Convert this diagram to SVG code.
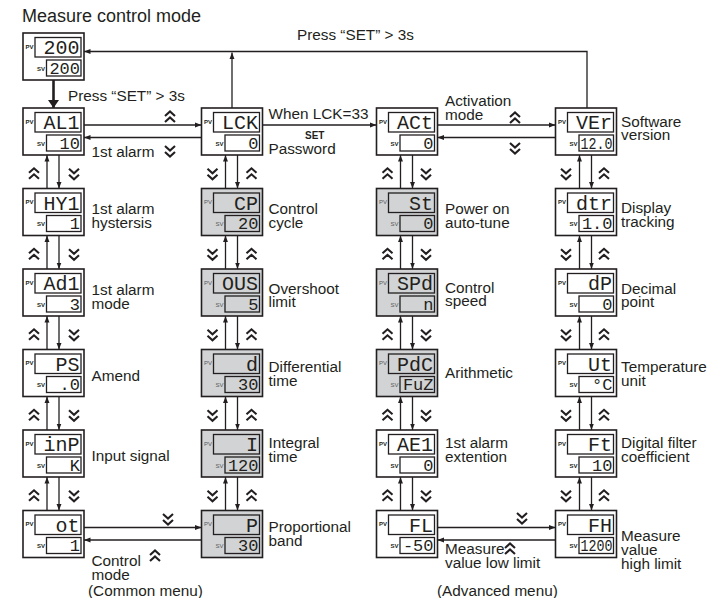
<svg xmlns="http://www.w3.org/2000/svg" width="709" height="598" viewBox="0 0 709 598">
<style>
.box{fill:#fff;stroke:#231f20;stroke-width:1.6}
.disp{fill:#fff;stroke:#231f20;stroke-width:1.3}
.gray .box,.gray .disp{fill:#d1d3d4}
.tag{font-family:"Liberation Sans",Arial,sans-serif;font-size:6px;font-weight:bold;fill:#231f20}
.gray .tag{fill:#58595b;font-weight:normal}
.seg{font-family:"Liberation Mono","Courier New",monospace;text-anchor:end;fill:#231f20}
.pv{font-size:20px}
.sv{font-size:17px}
.lbl{font-family:"Liberation Sans",Arial,sans-serif;font-size:15.3px;fill:#231f20}
.ttl{font-size:18px}
.set{font-family:"Liberation Sans",Arial,sans-serif;font-size:10px;font-weight:bold;fill:#231f20}
.ln{stroke:#231f20;stroke-width:1.3;fill:none}
.thick{stroke:#231f20;stroke-width:2.6;fill:none}
.chev{stroke:#231f20;stroke-width:2.1;fill:none;stroke-linejoin:miter}
</style>
<defs>
<marker id="ah" viewBox="0 0 10 10" refX="10" refY="5" markerWidth="6.5" markerHeight="6.5" markerUnits="userSpaceOnUse" orient="auto"><path d="M0,1.2 L10,5 L0,8.8z" fill="#231f20"/></marker>
<marker id="big" viewBox="0 0 8 11" refX="8" refY="5.5" markerWidth="8" markerHeight="11" markerUnits="userSpaceOnUse" orient="auto"><path d="M0,0 L8,5.5 L0,11z" fill="#231f20"/></marker>
<path id="cu" d="M-5,-1 L0,-5.5 L5,-1 M-5,5 L0,0.5 L5,5"/>
<path id="cd" d="M-5,1 L0,5.5 L5,1 M-5,-5 L0,-0.5 L5,-5"/>
</defs>

<text class="lbl ttl" x="22" y="22">Measure control mode</text>

<g id="connectors">
<line class="thick" x1="53.5" y1="80" x2="53.5" y2="108" marker-end="url(#big)"/>
<path class="ln" d="M587,108V51.5H84" marker-end="url(#ah)"/>
<path class="ln" d="M232,108V52.5" marker-end="url(#ah)"/>
<path class="ln" d="M84,125H201.5" marker-end="url(#ah)"/>
<path class="ln" d="M201.5,137.5H84" marker-end="url(#ah)"/>
<path class="ln" d="M262.5,125H376.5" marker-end="url(#ah)"/>
<path class="ln" d="M437.5,125H555.5" marker-end="url(#ah)"/>
<path class="ln" d="M555.5,137.5H437.5" marker-end="url(#ah)"/>
<path class="ln" d="M84,527.5H201.5" marker-end="url(#ah)"/>
<path class="ln" d="M201.5,540H84" marker-end="url(#ah)"/>
<path class="ln" d="M437.5,527.5H555.5" marker-end="url(#ah)"/>
<path class="ln" d="M555.5,540H437.5" marker-end="url(#ah)"/>
<!-- column 1 -->
<path class="ln" d="M47,188.5V155" marker-end="url(#ah)"/><path class="ln" d="M59,155V188.5" marker-end="url(#ah)"/>
<path class="ln" d="M47,269V235.5" marker-end="url(#ah)"/><path class="ln" d="M59,235.5V269" marker-end="url(#ah)"/>
<path class="ln" d="M47,349.5V316" marker-end="url(#ah)"/><path class="ln" d="M59,316V349.5" marker-end="url(#ah)"/>
<path class="ln" d="M47,430V396.5" marker-end="url(#ah)"/><path class="ln" d="M59,396.5V430" marker-end="url(#ah)"/>
<path class="ln" d="M47,510.5V477" marker-end="url(#ah)"/><path class="ln" d="M59,477V510.5" marker-end="url(#ah)"/>
<!-- column 2 -->
<path class="ln" d="M225.5,188.5V155" marker-end="url(#ah)"/><path class="ln" d="M237.5,155V188.5" marker-end="url(#ah)"/>
<path class="ln" d="M225.5,269V235.5" marker-end="url(#ah)"/><path class="ln" d="M237.5,235.5V269" marker-end="url(#ah)"/>
<path class="ln" d="M225.5,349.5V316" marker-end="url(#ah)"/><path class="ln" d="M237.5,316V349.5" marker-end="url(#ah)"/>
<path class="ln" d="M225.5,430V396.5" marker-end="url(#ah)"/><path class="ln" d="M237.5,396.5V430" marker-end="url(#ah)"/>
<path class="ln" d="M225.5,510.5V477" marker-end="url(#ah)"/><path class="ln" d="M237.5,477V510.5" marker-end="url(#ah)"/>
<!-- column 3 -->
<path class="ln" d="M400.5,188.5V155" marker-end="url(#ah)"/><path class="ln" d="M412.5,155V188.5" marker-end="url(#ah)"/>
<path class="ln" d="M400.5,269V235.5" marker-end="url(#ah)"/><path class="ln" d="M412.5,235.5V269" marker-end="url(#ah)"/>
<path class="ln" d="M400.5,349.5V316" marker-end="url(#ah)"/><path class="ln" d="M412.5,316V349.5" marker-end="url(#ah)"/>
<path class="ln" d="M400.5,430V396.5" marker-end="url(#ah)"/><path class="ln" d="M412.5,396.5V430" marker-end="url(#ah)"/>
<path class="ln" d="M400.5,510.5V477" marker-end="url(#ah)"/><path class="ln" d="M412.5,477V510.5" marker-end="url(#ah)"/>
<!-- column 4 -->
<path class="ln" d="M579.5,188.5V155" marker-end="url(#ah)"/><path class="ln" d="M591.5,155V188.5" marker-end="url(#ah)"/>
<path class="ln" d="M579.5,269V235.5" marker-end="url(#ah)"/><path class="ln" d="M591.5,235.5V269" marker-end="url(#ah)"/>
<path class="ln" d="M579.5,349.5V316" marker-end="url(#ah)"/><path class="ln" d="M591.5,316V349.5" marker-end="url(#ah)"/>
<path class="ln" d="M579.5,430V396.5" marker-end="url(#ah)"/><path class="ln" d="M591.5,396.5V430" marker-end="url(#ah)"/>
<path class="ln" d="M579.5,510.5V477" marker-end="url(#ah)"/><path class="ln" d="M591.5,477V510.5" marker-end="url(#ah)"/>
<!-- chevrons -->
<g class="chev">
<use href="#cu" x="170" y="117"/><use href="#cd" x="170" y="151"/>
<use href="#cu" x="515" y="118"/><use href="#cd" x="515" y="148"/>
<use href="#cd" x="168" y="519"/><use href="#cu" x="155" y="556"/>
<use href="#cd" x="522" y="518"/><use href="#cu" x="510" y="549"/>
<use href="#cu" x="34" y="173.8"/><use href="#cd" x="74" y="173.8"/>
<use href="#cu" x="34" y="254.3"/><use href="#cd" x="74" y="254.3"/>
<use href="#cu" x="34" y="334.8"/><use href="#cd" x="74" y="334.8"/>
<use href="#cu" x="34" y="415.3"/><use href="#cd" x="74" y="415.3"/>
<use href="#cu" x="34" y="495.8"/><use href="#cd" x="74" y="495.8"/>
<use href="#cd" x="212.5" y="173.8"/><use href="#cu" x="251.5" y="173.8"/>
<use href="#cd" x="212.5" y="254.3"/><use href="#cu" x="251.5" y="254.3"/>
<use href="#cd" x="212.5" y="334.8"/><use href="#cu" x="251.5" y="334.8"/>
<use href="#cd" x="212.5" y="415.3"/><use href="#cu" x="251.5" y="415.3"/>
<use href="#cd" x="212.5" y="495.8"/><use href="#cu" x="251.5" y="495.8"/>
<use href="#cu" x="387.5" y="173.8"/><use href="#cd" x="426" y="173.8"/>
<use href="#cu" x="387.5" y="254.3"/><use href="#cd" x="426" y="254.3"/>
<use href="#cu" x="387.5" y="334.8"/><use href="#cd" x="426" y="334.8"/>
<use href="#cu" x="387.5" y="415.3"/><use href="#cd" x="426" y="415.3"/>
<use href="#cu" x="387.5" y="495.8"/><use href="#cd" x="426" y="495.8"/>
<use href="#cd" x="566" y="173.8"/><use href="#cu" x="604" y="173.8"/>
<use href="#cd" x="566" y="254.3"/><use href="#cu" x="604" y="254.3"/>
<use href="#cd" x="566" y="334.8"/><use href="#cu" x="604" y="334.8"/>
<use href="#cd" x="566" y="415.3"/><use href="#cu" x="604" y="415.3"/>
<use href="#cd" x="566" y="495.8"/><use href="#cu" x="604" y="495.8"/>
</g>
</g>

<!-- nodes -->
<g id="n-top" transform="translate(23,33)"><rect class="box" width="61" height="47"/><rect class="disp" x="12" y="4.5" width="46" height="19.5"/><rect class="disp" x="23.5" y="27" width="34.5" height="16"/><text class="tag" x="2.5" y="15.5">PV</text><text class="tag" x="14" y="37.5">SV</text><text class="seg pv" x="56.5" y="21">200</text><text class="seg sv" x="57" y="40.5">200</text></g>

<g id="n-al1" transform="translate(23,108)"><rect class="box" width="61" height="47"/><rect class="disp" x="12" y="4.5" width="46" height="19.5"/><rect class="disp" x="23.5" y="27" width="34.5" height="16"/><text class="tag" x="2.5" y="15.5">PV</text><text class="tag" x="14" y="37.5">SV</text><text class="seg pv" x="56.5" y="21">AL1</text><text class="seg sv" x="57" y="40.5">10</text></g>
<g id="n-hy1" transform="translate(23,188.5)"><rect class="box" width="61" height="47"/><rect class="disp" x="12" y="4.5" width="46" height="19.5"/><rect class="disp" x="23.5" y="27" width="34.5" height="16"/><text class="tag" x="2.5" y="15.5">PV</text><text class="tag" x="14" y="37.5">SV</text><text class="seg pv" x="56.5" y="21">HY1</text><text class="seg sv" x="57" y="40.5">1</text></g>
<g id="n-ad1" transform="translate(23,269)"><rect class="box" width="61" height="47"/><rect class="disp" x="12" y="4.5" width="46" height="19.5"/><rect class="disp" x="23.5" y="27" width="34.5" height="16"/><text class="tag" x="2.5" y="15.5">PV</text><text class="tag" x="14" y="37.5">SV</text><text class="seg pv" x="56.5" y="21">Ad1</text><text class="seg sv" x="57" y="40.5">3</text></g>
<g id="n-ps" transform="translate(23,349.5)"><rect class="box" width="61" height="47"/><rect class="disp" x="12" y="4.5" width="46" height="19.5"/><rect class="disp" x="23.5" y="27" width="34.5" height="16"/><text class="tag" x="2.5" y="15.5">PV</text><text class="tag" x="14" y="37.5">SV</text><text class="seg pv" x="56.5" y="21">PS</text><text class="seg sv" x="57" y="40.5">.0</text></g>
<g id="n-inp" transform="translate(23,430)"><rect class="box" width="61" height="47"/><rect class="disp" x="12" y="4.5" width="46" height="19.5"/><rect class="disp" x="23.5" y="27" width="34.5" height="16"/><text class="tag" x="2.5" y="15.5">PV</text><text class="tag" x="14" y="37.5">SV</text><text class="seg pv" x="56.5" y="21">inP</text><text class="seg sv" x="57" y="40.5">K</text></g>
<g id="n-ot" transform="translate(23,510.5)"><rect class="box" width="61" height="47"/><rect class="disp" x="12" y="4.5" width="46" height="19.5"/><rect class="disp" x="23.5" y="27" width="34.5" height="16"/><text class="tag" x="2.5" y="15.5">PV</text><text class="tag" x="14" y="37.5">SV</text><text class="seg pv" x="56.5" y="21">ot</text><text class="seg sv" x="57" y="40.5">1</text></g>

<g id="n-lck" transform="translate(201.5,108)"><rect class="box" width="61" height="47"/><rect class="disp" x="12" y="4.5" width="46" height="19.5"/><rect class="disp" x="23.5" y="27" width="34.5" height="16"/><text class="tag" x="2.5" y="15.5">PV</text><text class="tag" x="14" y="37.5">SV</text><text class="seg pv" x="56.5" y="21">LCK</text><text class="seg sv" x="57" y="40.5">0</text></g>
<g id="n-cp" class="gray" transform="translate(201.5,188.5)"><rect class="box" width="61" height="47"/><rect class="disp" x="12" y="4.5" width="46" height="19.5"/><rect class="disp" x="23.5" y="27" width="34.5" height="16"/><text class="tag" x="2.5" y="15.5">PV</text><text class="tag" x="14" y="37.5">SV</text><text class="seg pv" x="56.5" y="21">CP</text><text class="seg sv" x="57" y="40.5">20</text></g>
<g id="n-ous" class="gray" transform="translate(201.5,269)"><rect class="box" width="61" height="47"/><rect class="disp" x="12" y="4.5" width="46" height="19.5"/><rect class="disp" x="23.5" y="27" width="34.5" height="16"/><text class="tag" x="2.5" y="15.5">PV</text><text class="tag" x="14" y="37.5">SV</text><text class="seg pv" x="56.5" y="21">OUS</text><text class="seg sv" x="57" y="40.5">5</text></g>
<g id="n-d" class="gray" transform="translate(201.5,349.5)"><rect class="box" width="61" height="47"/><rect class="disp" x="12" y="4.5" width="46" height="19.5"/><rect class="disp" x="23.5" y="27" width="34.5" height="16"/><text class="tag" x="2.5" y="15.5">PV</text><text class="tag" x="14" y="37.5">SV</text><text class="seg pv" x="56.5" y="21">d</text><text class="seg sv" x="57" y="40.5">30</text></g>
<g id="n-i" class="gray" transform="translate(201.5,430)"><rect class="box" width="61" height="47"/><rect class="disp" x="12" y="4.5" width="46" height="19.5"/><rect class="disp" x="23.5" y="27" width="34.5" height="16"/><text class="tag" x="2.5" y="15.5">PV</text><text class="tag" x="14" y="37.5">SV</text><text class="seg pv" x="56.5" y="21">I</text><text class="seg sv" x="57" y="40.5">120</text></g>
<g id="n-p" class="gray" transform="translate(201.5,510.5)"><rect class="box" width="61" height="47"/><rect class="disp" x="12" y="4.5" width="46" height="19.5"/><rect class="disp" x="23.5" y="27" width="34.5" height="16"/><text class="tag" x="2.5" y="15.5">PV</text><text class="tag" x="14" y="37.5">SV</text><text class="seg pv" x="56.5" y="21">P</text><text class="seg sv" x="57" y="40.5">30</text></g>

<g id="n-act" transform="translate(376.5,108)"><rect class="box" width="61" height="47"/><rect class="disp" x="12" y="4.5" width="46" height="19.5"/><rect class="disp" x="23.5" y="27" width="34.5" height="16"/><text class="tag" x="2.5" y="15.5">PV</text><text class="tag" x="14" y="37.5">SV</text><text class="seg pv" x="56.5" y="21">ACt</text><text class="seg sv" x="57" y="40.5">0</text></g>
<g id="n-st" class="gray" transform="translate(376.5,188.5)"><rect class="box" width="61" height="47"/><rect class="disp" x="12" y="4.5" width="46" height="19.5"/><rect class="disp" x="23.5" y="27" width="34.5" height="16"/><text class="tag" x="2.5" y="15.5">PV</text><text class="tag" x="14" y="37.5">SV</text><text class="seg pv" x="56.5" y="21">St</text><text class="seg sv" x="57" y="40.5">0</text></g>
<g id="n-spd" class="gray" transform="translate(376.5,269)"><rect class="box" width="61" height="47"/><rect class="disp" x="12" y="4.5" width="46" height="19.5"/><rect class="disp" x="23.5" y="27" width="34.5" height="16"/><text class="tag" x="2.5" y="15.5">PV</text><text class="tag" x="14" y="37.5">SV</text><text class="seg pv" x="56.5" y="21">SPd</text><text class="seg sv" x="57" y="40.5">n</text></g>
<g id="n-pdc" class="gray" transform="translate(376.5,349.5)"><rect class="box" width="61" height="47"/><rect class="disp" x="12" y="4.5" width="46" height="19.5"/><rect class="disp" x="23.5" y="27" width="34.5" height="16"/><text class="tag" x="2.5" y="15.5">PV</text><text class="tag" x="14" y="37.5">SV</text><text class="seg pv" x="56.5" y="21">PdC</text><text class="seg sv" x="57" y="40.5">FuZ</text></g>
<g id="n-ae1" transform="translate(376.5,430)"><rect class="box" width="61" height="47"/><rect class="disp" x="12" y="4.5" width="46" height="19.5"/><rect class="disp" x="23.5" y="27" width="34.5" height="16"/><text class="tag" x="2.5" y="15.5">PV</text><text class="tag" x="14" y="37.5">SV</text><text class="seg pv" x="56.5" y="21">AE1</text><text class="seg sv" x="57" y="40.5">0</text></g>
<g id="n-fl" transform="translate(376.5,510.5)"><rect class="box" width="61" height="47"/><rect class="disp" x="12" y="4.5" width="46" height="19.5"/><rect class="disp" x="23.5" y="27" width="34.5" height="16"/><text class="tag" x="2.5" y="15.5">PV</text><text class="tag" x="14" y="37.5">SV</text><text class="seg pv" x="56.5" y="21">FL</text><text class="seg sv" x="57" y="40.5">-50</text></g>

<g id="n-ver" transform="translate(555.5,108)"><rect class="box" width="61" height="47"/><rect class="disp" x="12" y="4.5" width="46" height="19.5"/><rect class="disp" x="23.5" y="27" width="34.5" height="16"/><text class="tag" x="2.5" y="15.5">PV</text><text class="tag" x="14" y="37.5">SV</text><text class="seg pv" x="56.5" y="21">VEr</text><text class="seg sv" x="57" y="40.5" textLength="32" lengthAdjust="spacingAndGlyphs">12.0</text></g>
<g id="n-dtr" transform="translate(555.5,188.5)"><rect class="box" width="61" height="47"/><rect class="disp" x="12" y="4.5" width="46" height="19.5"/><rect class="disp" x="23.5" y="27" width="34.5" height="16"/><text class="tag" x="2.5" y="15.5">PV</text><text class="tag" x="14" y="37.5">SV</text><text class="seg pv" x="56.5" y="21">dtr</text><text class="seg sv" x="57" y="40.5">1.0</text></g>
<g id="n-dp" transform="translate(555.5,269)"><rect class="box" width="61" height="47"/><rect class="disp" x="12" y="4.5" width="46" height="19.5"/><rect class="disp" x="23.5" y="27" width="34.5" height="16"/><text class="tag" x="2.5" y="15.5">PV</text><text class="tag" x="14" y="37.5">SV</text><text class="seg pv" x="56.5" y="21">dP</text><text class="seg sv" x="57" y="40.5">0</text></g>
<g id="n-ut" transform="translate(555.5,349.5)"><rect class="box" width="61" height="47"/><rect class="disp" x="12" y="4.5" width="46" height="19.5"/><rect class="disp" x="23.5" y="27" width="34.5" height="16"/><text class="tag" x="2.5" y="15.5">PV</text><text class="tag" x="14" y="37.5">SV</text><text class="seg pv" x="56.5" y="21">Ut</text><text class="seg sv" x="57" y="40.5">°C</text></g>
<g id="n-ft" transform="translate(555.5,430)"><rect class="box" width="61" height="47"/><rect class="disp" x="12" y="4.5" width="46" height="19.5"/><rect class="disp" x="23.5" y="27" width="34.5" height="16"/><text class="tag" x="2.5" y="15.5">PV</text><text class="tag" x="14" y="37.5">SV</text><text class="seg pv" x="56.5" y="21">Ft</text><text class="seg sv" x="57" y="40.5">10</text></g>
<g id="n-fh" transform="translate(555.5,510.5)"><rect class="box" width="61" height="47"/><rect class="disp" x="12" y="4.5" width="46" height="19.5"/><rect class="disp" x="23.5" y="27" width="34.5" height="16"/><text class="tag" x="2.5" y="15.5">PV</text><text class="tag" x="14" y="37.5">SV</text><text class="seg pv" x="56.5" y="21">FH</text><text class="seg sv" x="57" y="40.5" textLength="32" lengthAdjust="spacingAndGlyphs">1200</text></g>

<g id="labels" class="lbl">
<text x="68" y="101">Press “SET” &gt; 3s</text>
<text x="297" y="40">Press “SET” &gt; 3s</text>
<text x="91.5" y="157">1st alarm</text>
<text x="91.5" y="214">1st alarm<tspan x="91.5" dy="14">hystersis</tspan></text>
<text x="91.5" y="294.5">1st alarm<tspan x="91.5" dy="14">mode</tspan></text>
<text x="91.5" y="380.5">Amend</text>
<text x="91.5" y="461">Input signal</text>
<text x="91.5" y="566">Control<tspan x="91.5" dy="14">mode</tspan></text>
<text x="88" y="596">(Common menu)</text>
<text x="268.5" y="118.5">When LCK=33</text>
<text class="set" x="305" y="139">SET</text>
<text x="268.5" y="153.5">Password</text>
<text x="268.5" y="214">Control<tspan x="268.5" dy="13.5">cycle</tspan></text>
<text x="268.5" y="293.5">Overshoot<tspan x="268.5" dy="13.5">limit</tspan></text>
<text x="268.5" y="372">Differential<tspan x="268.5" dy="13.5">time</tspan></text>
<text x="268.5" y="448">Integral<tspan x="268.5" dy="14">time</tspan></text>
<text x="268.5" y="532">Proportional<tspan x="268.5" dy="14">band</tspan></text>
<text x="445" y="106">Activation<tspan x="445" dy="14">mode</tspan></text>
<text x="445" y="214">Power on<tspan x="445" dy="14">auto-tune</tspan></text>
<text x="445" y="292.5">Control<tspan x="445" dy="13.5">speed</tspan></text>
<text x="445" y="377.5">Arithmetic</text>
<text x="445" y="448">1st alarm<tspan x="445" dy="14">extention</tspan></text>
<text x="445" y="554">Measure<tspan x="445" dy="14">value low limit</tspan></text>
<text x="437" y="596">(Advanced menu)</text>
<text x="621" y="126.5">Software<tspan x="621" dy="13.5">version</tspan></text>
<text x="621" y="213">Display<tspan x="621" dy="14">tracking</tspan></text>
<text x="621" y="293.5">Decimal<tspan x="621" dy="13.5">point</tspan></text>
<text x="621" y="372">Temperature<tspan x="621" dy="13.5">unit</tspan></text>
<text x="621" y="448">Digital filter<tspan x="621" dy="14">coefficient</tspan></text>
<text x="621" y="541">Measure<tspan x="621" dy="14">value</tspan><tspan x="621" dy="14">high limit</tspan></text>
</g>
</svg>
